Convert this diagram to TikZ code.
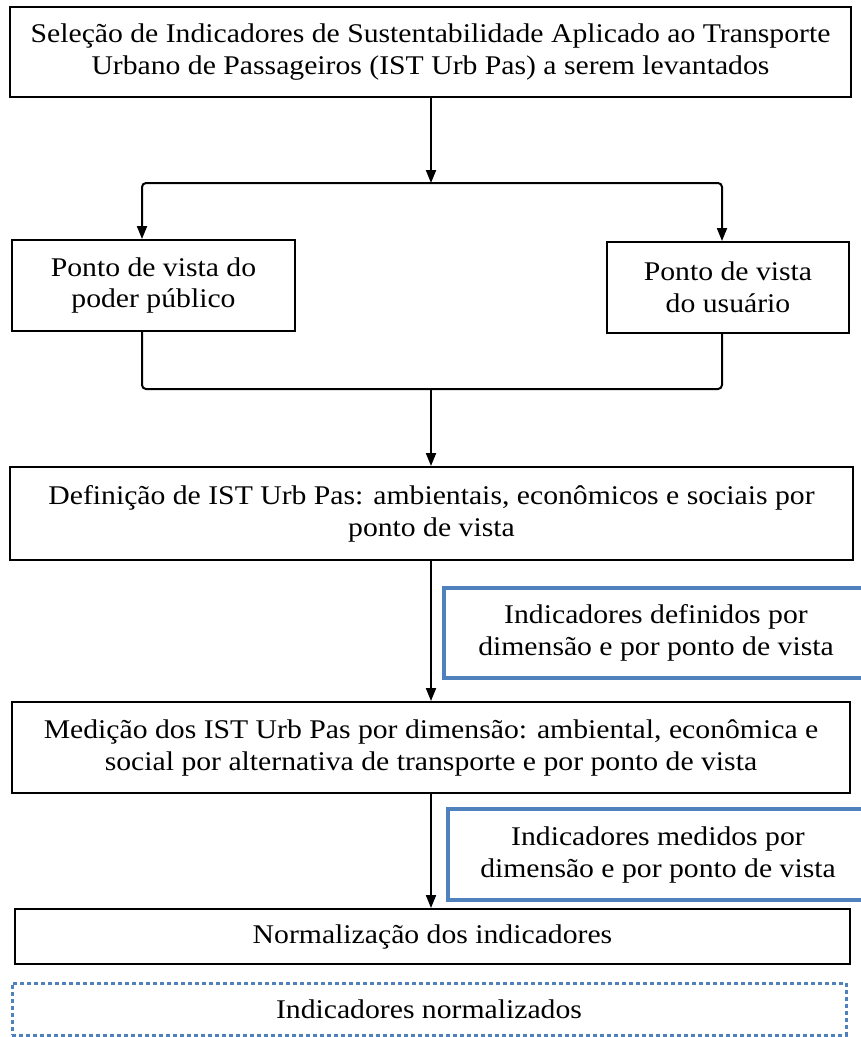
\documentclass[tikz,border=0pt]{standalone}
\usepackage{fontspec}
\setmainfont[FakeStretch=1.10]{Liberation Serif}
\usetikzlibrary{arrows.meta}

\tikzset{
    box/.style={rectangle,draw,line width=2pt,align=center,inner sep=0,font=\fontsize{27}{32}\selectfont},
    blue/.style={box,draw=blueline,line width=4pt},
    dots/.style={box,draw=blueline,line width=3pt,dash pattern=on 4pt off 3pt},
    arrow/.style={line width=2pt,-{Triangle[length=13pt,width=10pt]}},
    link/.style={line width=2pt,rounded corners=4pt}
    }
\definecolor{blueline}{RGB}{79,129,189}

\begin{document}
\begin{tikzpicture}[x=1pt,y=-1pt]
                \useasboundingbox (0,0) rectangle (861,1037);
                \clip (0,0) rectangle (861,1037);
                % The Boxes
                \node(sel)[box,minimum width=841,minimum height=90] at (430.5,52)
                    {Seleção de Indicadores de Sustentabilidade Aplicado ao Transporte\\Urbano de Passageiros (IST Urb Pas) a serem levantados};
                \node(pub)[box,minimum width=283,minimum height=91] at (153.5,285.5)
                    {Ponto de vista do\\poder público};
                \node(usu)[box,minimum width=242,minimum height=91] at (728,287.5)
                    {Ponto de vista\\do usuário};
                \node(def)[box,minimum width=843,minimum height=93] at (431.5,513.5)
                    {Definição de IST Urb Pas: ambientais, econômicos e sociais por\\ponto de vista};
                \node(ind1)[blue,minimum width=424,minimum height=90] at (656,633)
                    {Indicadores definidos por\\dimensão e por ponto de vista};
                \node(med)[box,minimum width=838,minimum height=91] at (431,747.5)
                    {Medição dos IST Urb Pas por dimensão: ambiental, econômica e\\social por alternativa de transporte e por ponto de vista};
                \node(ind2)[blue,minimum width=420,minimum height=91] at (658,854.5)
                    {Indicadores medidos por\\dimensão e por ponto de vista};
                \node(nor)[box,minimum width=835,minimum height=55] at (432.5,936.5)
                    {Normalização dos indicadores};
                \node(nord)[dots,minimum width=834,minimum height=52] at (429,1009)
                    {Indicadores normalizados};
                % The Links
                \coordinate(split) at (431,183);
                \coordinate(brL) at (142,183);
                \coordinate(brR) at (722,183);
                \coordinate(join) at (431,389);
                \coordinate(joinL) at (142,389);
                \coordinate(joinR) at (722,389);
                \draw[arrow] (sel.south -| split) -- (split);
                \draw[link,arrow] (split) -- (brL) -- (brL |- pub.north);
                \draw[link,arrow] (split) -- (brR) -- (brR |- usu.north);
                \draw[link] ([yshift=2]pub.south -| joinL) -- (joinL) -- (joinR) -- ([yshift=2]usu.south -| joinR);
                \draw[arrow] (join) -- (join |- def.north);
                \draw[arrow] (def.south -| join) -- (join |- med.north);
                \draw[arrow] (med.south -| join) -- (join |- nor.north);
\end{tikzpicture}
\end{document}
